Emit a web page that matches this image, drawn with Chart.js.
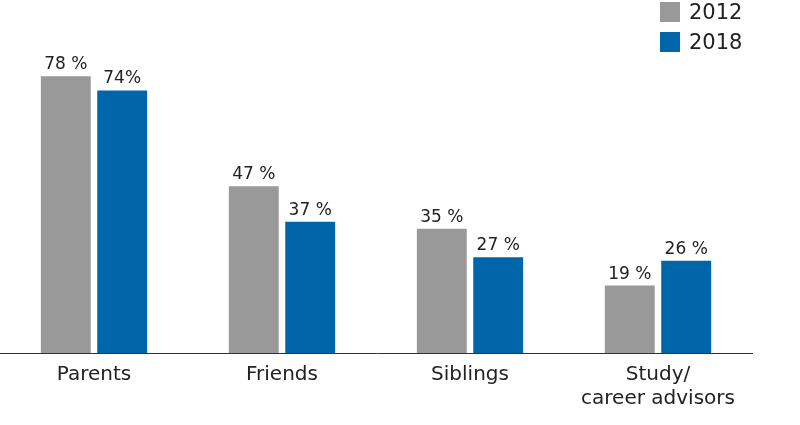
<!DOCTYPE html>
<html><head><meta charset="utf-8">
<script src="https://cdn.jsdelivr.net/npm/chart.js@4/dist/chart.umd.min.js"></script>
<style>
body{margin:0;background:#fff;font-family:"DejaVu Sans",sans-serif;}
#wrap{position:relative;width:800px;height:425px;}
#c{position:absolute;left:0;top:0;}
.lg{position:absolute;left:660px;font-size:21px;color:#222;display:flex;align-items:center;}
.lg span{display:inline-block;width:20px;height:20px;margin-right:9px;}
</style></head><body>
<div id="wrap"><canvas id="c" width="800" height="425"></canvas>
<div class="lg" style="top:0px"><span style="background:#999999"></span>2012</div>
<div class="lg" style="top:30px"><span style="background:#0066aa"></span>2018</div>
</div>
<script>
const categories=[["Parents"],["Friends"],["Siblings"],["Study/","career advisors"]];
const values2012=[78,47,35,19];
const values2018=[74,37,27,26];
const labels2012=["78 %","47 %","35 %","19 %"];
const labels2018=["74%","37 %","27 %","26 %"];
const lblPlugin={id:'lbl',afterDatasetsDraw(ch){const ctx=ch.ctx;ctx.save();ctx.font='17px "DejaVu Sans"';ctx.fillStyle='#222';ctx.textAlign='center';ctx.textBaseline='bottom';
[labels2012,labels2018].forEach((L,di)=>{ch.getDatasetMeta(di).data.forEach((b,i)=>{ctx.fillText(L[i],b.x,b.y-3);});});ctx.restore();}};
new Chart(document.getElementById('c'),{type:'bar',
data:{labels:categories,datasets:[
{label:'2012',data:values2012,backgroundColor:'#999999',categoryPercentage:0.6,barPercentage:0.885},
{label:'2018',data:values2018,backgroundColor:'#0066aa',categoryPercentage:0.6,barPercentage:0.885}]},
options:{responsive:false,animation:false,layout:{padding:{left:0,right:48,top:0,bottom:4}},
plugins:{legend:{display:false},tooltip:{enabled:false}},
scales:{x:{grid:{display:false,drawTicks:false},border:{color:'#333',width:1},ticks:{color:'#222',font:{family:'DejaVu Sans',size:20},padding:10}},
y:{display:false,min:0,max:99.5}}},
plugins:[lblPlugin]});
</script></body></html>
